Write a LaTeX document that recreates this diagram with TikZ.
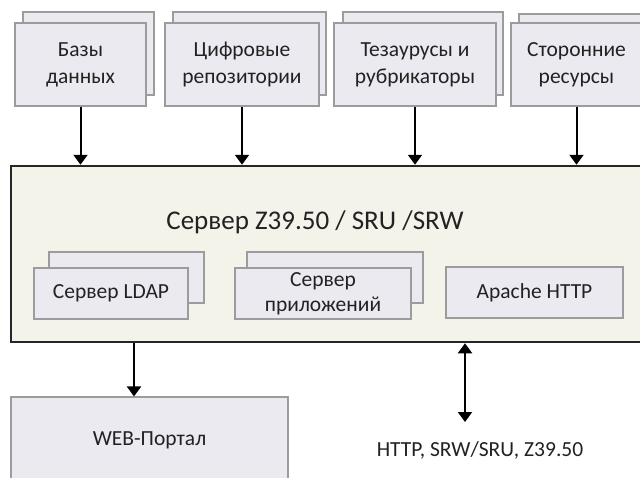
\documentclass[tikz,border=0pt]{standalone}
\usepackage{fontspec}
\setmainfont{Carlito}
\usetikzlibrary{arrows.meta}
\definecolor{boxfill}{HTML}{ECEAF1}
\definecolor{boxline}{HTML}{9C9C9C}
\definecolor{srvfill}{HTML}{F3F3EA}
\definecolor{txt}{HTML}{222222}
\begin{document}
\begin{tikzpicture}[x=1pt,y=-1pt,
  >={Triangle[width=14pt,length=10pt]},
  box/.style={draw=boxline, fill=boxfill, line width=1.1pt, inner sep=0pt,
    align=center, text=txt, font=\fontsize{21.5}{27}\selectfont},
  inbox/.style={box, minimum height=51pt, font=\fontsize{21.5}{25}\selectfont},
  srvbox/.style={draw=black!85, fill=srvfill, line width=2.5pt, inner sep=0pt},
  lbl/.style={text=txt, inner sep=0pt},
  arr/.style={->, line width=2pt, draw=black},
  darr/.style={<->, line width=2pt, draw=black}]
\useasboundingbox (0,0) rectangle (640,477);
\clip (0,0) rectangle (640,477);
\fill[white] (0,0) rectangle (640,477);

% sources (stacked cards)
\node[box, minimum width=131pt, minimum height=83pt] (b1s) at (88.5,53.5) {};
\node[box, minimum width=131pt, minimum height=83pt] (b1) at (80.5,64.5) {Базы\\данных};
\node[box, minimum width=153pt, minimum height=83pt] (b2s) at (249.5,53.5) {};
\node[box, minimum width=154pt, minimum height=83pt] (b2) at (242,64.5) {Цифровые\\репозитории};
\node[box, minimum width=160pt, minimum height=83pt] (b3s) at (423,53.5) {};
\node[box, minimum width=162pt, minimum height=83pt] (b3) at (415,64.5) {Тезаурусы и\\рубрикаторы};
\node[box, minimum width=131pt, minimum height=83pt] (b4s) at (584.5,55.5) {};
\node[box, minimum width=131pt, minimum height=83pt] (b4) at (576.5,64.5) {Сторонние\\ресурсы};

% central server
\node[srvbox, minimum width=634pt, minimum height=176pt] (srv) at (328,254) {};
\node[lbl, font=\fontsize{27}{32}\selectfont] (ttl) at (315,222) {Сервер Z39.50 / SRU /SRW};

\node[inbox, minimum width=155pt] (ldaps) at (126.5,277.5) {};
\node[inbox, minimum width=154pt] (ldap) at (111,293.5) {Сервер LDAP};
\node[inbox, minimum width=176pt] (apps) at (335,277.5) {};
\node[inbox, minimum width=176pt] (app) at (323,293.5) {Сервер\\приложений};
\node[inbox, minimum width=177pt] (apache) at (534.5,292.5) {Apache HTTP};

% clients
\node[box, minimum width=277pt, minimum height=86pt] (web) at (149.5,440) {WEB-Портал};
\node[lbl, font=\fontsize{21.5}{26}\selectfont] (proto) at (480,450) {HTTP, SRW/SRU, Z39.50};

% connectors
\draw[arr] (b1.south) -- (b1.south |- srv.north);
\draw[arr] (b2.south) -- (b2.south |- srv.north);
\draw[arr] (b3.south) -- (b3.south |- srv.north);
\draw[arr] (b4.south) -- (b4.south |- srv.north);
\coordinate (wx) at (134,0);
\draw[arr] (srv.south -| wx) -- (web.north -| wx);
\coordinate (dx) at (465,422);
\draw[darr] (srv.south -| dx) -- (dx);
\end{tikzpicture}
\end{document}
